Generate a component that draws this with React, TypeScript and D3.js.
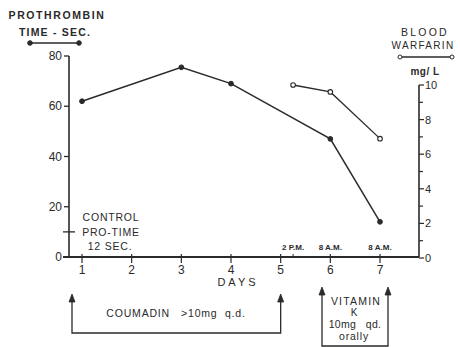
import React, { useEffect, useRef } from "react";
import * as d3 from "d3";

// prothrombin time (sec), filled dots, left axis
const proDays = [1, 3, 4, 6, 7];
const proTime = [62, 75.5, 69, 47, 14];

// blood warfarin (mg/L), open dots, right axis
const warDays = [5.25, 6, 7];
const warfarin = [10, 9.6, 6.9];

const dayTicks = [1, 2, 3, 4, 5, 6, 7];
const leftTicks = [0, 20, 40, 60, 80];
const rightTicks = [0, 1, 2, 3, 4, 5, 6, 7, 8, 9, 10];
const timeLabels = ["2 P.M.", "8 A.M.", "8 A.M."];
const timeDays = [5.25, 6, 7];
const controlTime = 10;

const INK = "#2a2a2a";
const FONT = "'Liberation Sans', Arial, sans-serif";

export default function App() {
  const ref = useRef<SVGSVGElement | null>(null);

  useEffect(() => {
    const svg = d3.select(ref.current);
    svg.selectAll("*").remove();

    const x = d3.scaleLinear().domain([1, 7]).range([82, 380]);
    const yL = d3.scaleLinear().domain([0, 80]).range([257, 56]);
    const yR = d3.scaleLinear().domain([0, 10]).range([258, 85]);
    const left = 69,
      right = 419,
      base = 257;

    const g = svg.append("g").attr("stroke", INK).attr("fill", "none");

    // axes
    g.append("line").attr("x1", left).attr("x2", left).attr("y1", yL(80)).attr("y2", base).attr("stroke-width", 1.6);
    g.append("line").attr("x1", left - 6).attr("x2", right).attr("y1", base).attr("y2", base).attr("stroke-width", 1.8);
    g.append("line").attr("x1", right).attr("x2", right).attr("y1", yR(10)).attr("y2", base).attr("stroke-width", 1.6);

    // left ticks
    g.selectAll(".lt")
      .data(leftTicks)
      .join("line")
      .attr("x1", left - 5)
      .attr("x2", left)
      .attr("y1", (d) => yL(d))
      .attr("y2", (d) => yL(d))
      .attr("stroke-width", 1.3);
    g.append("line")
      .attr("x1", left - 6)
      .attr("x2", left + 6)
      .attr("y1", yL(controlTime))
      .attr("y2", yL(controlTime))
      .attr("stroke-width", 1.3);

    svg
      .selectAll(".ll")
      .data(leftTicks)
      .join("text")
      .attr("x", left - 7)
      .attr("y", (d) => yL(d) + 4)
      .attr("text-anchor", "end")
      .attr("font-size", 12)
      .attr("font-family", FONT)
      .attr("fill", INK)
      .text((d) => d);

    // right ticks
    g.selectAll(".rt")
      .data(rightTicks)
      .join("line")
      .attr("x1", right)
      .attr("x2", (d) => right + (d % 2 === 0 ? 5 : 4))
      .attr("y1", (d) => yR(d))
      .attr("y2", (d) => yR(d))
      .attr("stroke-width", 1.2);
    svg
      .selectAll(".rl")
      .data(rightTicks.filter((d) => d % 2 === 0))
      .join("text")
      .attr("x", right + 6)
      .attr("y", (d) => yR(d) + 4)
      .attr("font-size", 11)
      .attr("font-family", FONT)
      .attr("fill", INK)
      .text((d) => d);

    // day ticks
    g.selectAll(".dt")
      .data(dayTicks)
      .join("line")
      .attr("x1", (d) => x(d))
      .attr("x2", (d) => x(d))
      .attr("y1", base - 3)
      .attr("y2", base + 6)
      .attr("stroke-width", 1.2);
    g.append("line")
      .attr("x1", x(5.25))
      .attr("x2", x(5.25))
      .attr("y1", base - 3)
      .attr("y2", base)
      .attr("stroke-width", 1);
    svg
      .selectAll(".dl")
      .data(dayTicks)
      .join("text")
      .attr("x", (d) => x(d))
      .attr("y", base + 17)
      .attr("text-anchor", "middle")
      .attr("font-size", 12)
      .attr("font-family", FONT)
      .attr("fill", INK)
      .text((d) => d);
    svg
      .selectAll(".tl")
      .data(timeLabels)
      .join("text")
      .attr("x", (_, i) => x(timeDays[i]))
      .attr("y", base - 7)
      .attr("text-anchor", "middle")
      .attr("font-size", 8)
      .attr("font-weight", "bold")
      .attr("font-family", FONT)
      .attr("fill", INK)
      .text((d) => d);

    // series
    const proLine = d3
      .line<number>()
      .x((_, i) => x(proDays[i]))
      .y((d) => yL(d));
    g.append("path").attr("d", proLine(proTime)).attr("stroke-width", 1.5);
    g.selectAll(".pd")
      .data(proTime)
      .join("circle")
      .attr("cx", (_, i) => x(proDays[i]))
      .attr("cy", (d) => yL(d))
      .attr("r", 2.4)
      .attr("fill", INK);

    const warLine = d3
      .line<number>()
      .x((_, i) => x(warDays[i]))
      .y((d) => yR(d));
    g.append("path").attr("d", warLine(warfarin)).attr("stroke-width", 1.3);
    g.selectAll(".wd")
      .data(warfarin)
      .join("circle")
      .attr("cx", (_, i) => x(warDays[i]))
      .attr("cy", (d) => yR(d))
      .attr("r", 2.3)
      .attr("fill", "#fff")
      .attr("stroke-width", 1.1);

    // legends
    g.append("line").attr("x1", 30).attr("x2", 79).attr("y1", 43).attr("y2", 43).attr("stroke-width", 1.5);
    [30, 79].forEach((cx) => g.append("circle").attr("cx", cx).attr("cy", 43).attr("r", 2.3).attr("fill", INK));
    g.append("line").attr("x1", 400).attr("x2", 452).attr("y1", 57).attr("y2", 57).attr("stroke-width", 1.3);
    [400, 452].forEach((cx) =>
      g.append("circle").attr("cx", cx).attr("cy", 57).attr("r", 2).attr("fill", "#fff").attr("stroke-width", 1)
    );

    const label = (t: string, cx: number, cy: number, size: number, ls = 1.2) =>
      svg
        .append("text")
        .attr("x", cx)
        .attr("y", cy)
        .attr("text-anchor", "middle")
        .attr("font-size", size)
        .attr("font-family", FONT)
        .attr("letter-spacing", ls)
        .attr("fill", INK)
        .style("white-space", "pre")
        .text(t);

    label("PROTHROMBIN", 57, 19, 10.5, 1.6).attr("font-weight", "bold");
    label("TIME - SEC.", 55, 36, 10.5, 1.2).attr("font-weight", "bold");
    label("BLOOD", 425, 36, 10.5, 2.2);
    label("WARFARIN", 423, 49, 10, 1.3);
    label("mg/ L", 425, 75, 10, 0.5).attr("font-weight", "bold");
    label("DAYS", 238, 286, 11, 3);
    label("CONTROL", 111, 221, 10.5, 0.8);
    label("PRO-TIME", 111, 236, 10.5, 0.8);
    label("12 SEC.", 110, 250, 10.5, 0.8);

    // treatment brackets
    const bracket = (x0: number, x1: number, top: number, bottom: number) => {
      g.append("path")
        .attr("d", `M${x0},${top + 5}V${bottom}H${x1}V${top + 5}`)
        .attr("stroke-width", 1.3);
      [x0, x1].forEach((ax) =>
        g.append("path")
          .attr("d", `M${ax - 3},${top + 8}L${ax},${top}L${ax + 3},${top + 8}Z`)
          .attr("fill", INK)
          .attr("stroke-width", 0.8)
      );
    };
    bracket(72, x(5), 294, 333);
    bracket(322, 388, 287, 346);

    label("COUMADIN   >10mg  q.d.", 176, 317, 10.5, 0.8);
    label("VITAMIN", 356, 305, 10.5, 1.2);
    label("K", 354, 316, 10, 0);
    label("10mg   qd.", 355, 328, 10.5, 0.3);
    label("orally", 354, 340, 10.5, 0.8);
  }, []);

  return (
    <svg
      ref={ref}
      width={460}
      height={347}
      style={{ position: "absolute", left: 0, top: 0, background: "#fff" }}
    />
  );
}
